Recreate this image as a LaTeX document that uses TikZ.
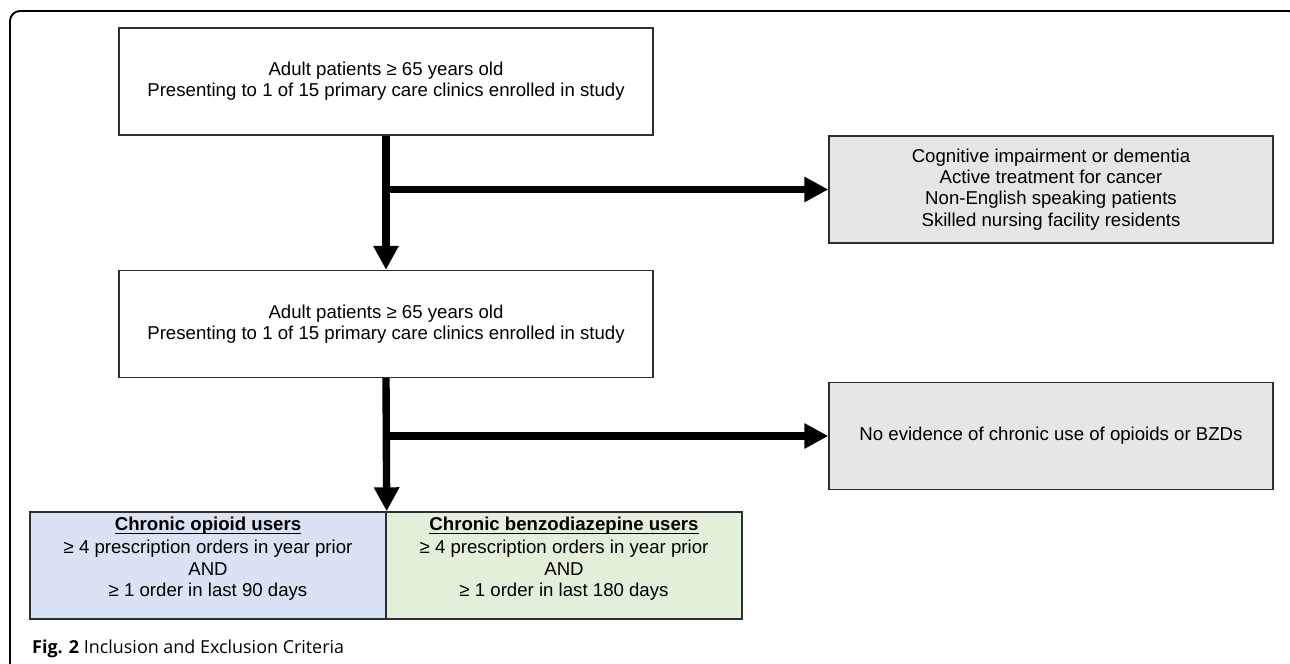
\documentclass[tikz,border=0pt]{standalone}
\usepackage{fontspec}
\setmainfont{Liberation Sans}
\newfontfamily\capfont{Open Sans}
\usetikzlibrary{arrows.meta}
\definecolor{frame-grey}{HTML}{2E2E2E}
\definecolor{excl-grey}{HTML}{E6E5E7}
\definecolor{opioid-blue}{HTML}{DAE3F3}
\definecolor{benzo-green}{HTML}{E2F0D9}
\newcommand{\grouphead}[1]{\underline{\smash{\textbf{#1}}}}

\begin{document}
\begin{tikzpicture}[
      every node/.style={font=\fontsize{10.6}{12.1}\selectfont},
      incbox/.style={draw=frame-grey, line width=0.8pt, fill=white,
          minimum width=10.68cm, minimum height=2.14cm, align=center},
      excbox/.style={draw=frame-grey, line width=0.8pt, fill=excl-grey,
          minimum width=8.88cm, minimum height=2.14cm, align=center},
      grpbox/.style={draw=frame-grey, line width=0.8pt,
          minimum width=7.12cm, minimum height=2.14cm, align=center},
      flow/.style={line width=4.2pt, -{Triangle[length=0.48cm, width=0.48cm]}}]
    \useasboundingbox (0,0) rectangle (25.8,-13.28);
    % outer frame
    \draw[line width=1.1pt, rounded corners=0.2cm]
          (0.2,-13.6) -- (0.2,-0.22) -- (25.98,-0.22) -- (25.98,-1.2);
    \node[incbox] (INC1) at (7.72,-1.63)
          {Adult patients ≥ 65 years old\\Presenting to 1 of 15 primary care clinics enrolled in study};
    \node[excbox] (EXC1) at (21.02,-3.79)
          {Cognitive impairment or dementia\\Active treatment for cancer\\Non-English speaking patients\\Skilled nursing facility residents};
    \node[incbox] (INC2) at (7.72,-6.48)
          {Adult patients ≥ 65 years old\\Presenting to 1 of 15 primary care clinics enrolled in study};
    \node[excbox] (EXC2) at (21.02,-8.72)
          {No evidence of chronic use of opioids or BZDs};
    \node[grpbox, fill=opioid-blue] (OPI) at (4.16,-11.31)
          {\grouphead{Chronic opioid users}\\[1pt]≥ 4 prescription orders in year prior\\AND\\≥ 1 order in last 90 days};
    \node[grpbox, fill=benzo-green] (BZD) at (11.28,-11.31)
          {\grouphead{Chronic benzodiazepine users}\\[1pt]≥ 4 prescription orders in year prior\\AND\\≥ 1 order in last 180 days};
    \node[anchor=base west, font=\capfont\fontsize{10.2}{12}\selectfont]
          (CAP) at (0.52,-13.06) {\textbf{Fig. 2} Inclusion and Exclusion Criteria};
    \draw[flow] (INC1.south) -- (INC2.north);
    \draw[flow] (INC1.south |- EXC1.west) -- (EXC1.west);
    \draw[flow] (INC2.south) -- (OPI.north east);
    \draw[flow] (INC2.south |- EXC2.west) -- (EXC2.west);
\end{tikzpicture}
\end{document}
